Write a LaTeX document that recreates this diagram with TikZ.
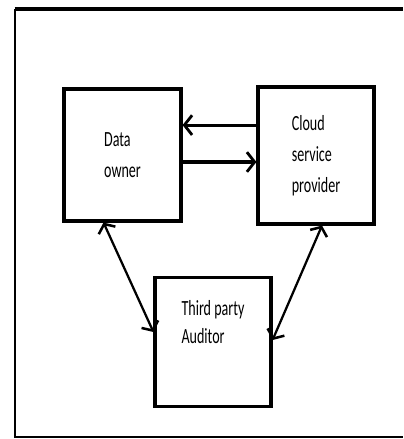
\documentclass[tikz,border=0pt]{standalone}
\usepackage{fontspec}
\usepackage{tikz}
\setmainfont{Carlito}[FakeStretch=0.65]
\usetikzlibrary{calc}
\usetikzlibrary{arrows.meta}
\tikzstyle{every node}=[font=\fontsize{15.4}{22}\selectfont]
\tikzstyle{box}=[draw, line width=2.2pt, align=left, inner sep=0pt]
\tikzstyle{arr}=[line width=2.2pt, -{Straight Barb[length=5.5pt, width=14pt, line width=2pt]}]
\tikzstyle{link}=[line width=1.6pt, {Straight Barb[length=5pt, width=13pt, line width=1.8pt]}-{Straight Barb[length=5pt, width=13pt, line width=1.8pt]}]

\begin{document}
\begin{tikzpicture}[x=0.025cm, y=-0.025cm]
        \useasboundingbox (0, 0) rectangle (403, 439);
        % frame, open on the right
        \draw [line width=1.3pt] (15, 9) -- (15, 437) -- (403, 437);
        \draw [line width=2.6pt] (14.5, 9) -- (403, 9);

        \node [box, minimum width=2.925cm, minimum height=3.3cm] (owner) at (122.5, 155) {Data\\owner};
        \node [box, minimum width=2.9cm, minimum height=3.425cm] (csp) at (316, 155.5) {Cloud\\service\\provider};
        \node [box, minimum width=2.9cm, minimum height=3.225cm] (tpa) at (213, 342) {Third party\\[-2pt] Auditor\\[6pt]};

        \draw [arr] ([yshift=0.76cm]csp.west) -- ([yshift=0.76cm]csp.west -| owner.east);
        \draw [arr] ([yshift=-0.175cm]owner.east) -- ([yshift=-0.175cm]owner.east -| csp.west);
        \draw [link] ([xshift=-0.475cm]owner.south) -- ([yshift=0.25cm]tpa.west);
        \draw [link] ([xshift=0.15cm]csp.south) -- ([yshift=0.05cm]tpa.east);
;
    \end{tikzpicture}
\end{document}
